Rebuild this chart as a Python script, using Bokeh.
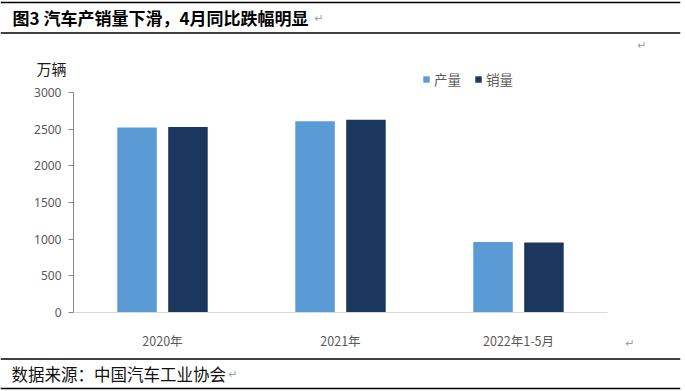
from bokeh.plotting import figure
from bokeh.models import (ColumnDataSource, FactorRange, Range1d, Label, Span,
                          Legend, LegendItem, FixedTicker)
from bokeh.transform import dodge
from bokeh.embed import file_html
from bokeh.resources import INLINE

categories = ["2020年", "2021年", "2022年1-5月"]
production = [2523, 2608, 961]
sales = [2531, 2628, 956]
y_ticks = [0, 500, 1000, 1500, 2000, 2500, 3000]
series_names = ["产量", "销量"]
colors = ["#5B9BD5", "#1C375E"]

W, H = 685, 390
RB = 5                      # right border
AX_L, AX_R = 73, 607        # x axis extent in px
Y0, Y3000 = 312, 92         # y pixel of 0 and 3000
k = (Y0 - Y3000) / 3000.0   # px per unit
cat_px = (AX_R - AX_L) / len(categories)
pad_units = AX_L / cat_px   # padding each side in category units

src = ColumnDataSource(dict(cat=categories, prod=production, sale=sales))

x_range = FactorRange(*categories, range_padding=2 * pad_units / len(categories),
                      range_padding_units="percent")
y_range = Range1d(-(H - Y0) / k, Y0 / k)

p = figure(width=W, height=H, x_range=x_range, y_range=y_range, title=None,
           output_backend="svg", toolbar_location=None,
           min_border_left=0, min_border_right=RB, min_border_top=0, min_border_bottom=0)
p.outline_line_color = None
p.background_fill_color = "white"
p.border_fill_color = "white"
p.xgrid.grid_line_color = None
p.ygrid.grid_line_color = None

r1 = p.vbar(x=dodge("cat", -0.143, range=p.x_range), top="prod", width=0.222,
            source=src, fill_color=colors[0], line_color=None)
r2 = p.vbar(x=dodge("cat", 0.143, range=p.x_range), top="sale", width=0.222,
            source=src, fill_color=colors[1], line_color=None)

# axes (drawn at fixed locations inside the canvas)
p.yaxis.fixed_location = 0
p.yaxis.bounds = (0, 3000)
p.yaxis.ticker = FixedTicker(ticks=y_ticks)
p.yaxis.axis_line_color = "#868686"
p.yaxis.major_tick_line_color = "#868686"
p.yaxis.major_tick_out = 5
p.yaxis.major_tick_in = 0
p.yaxis.minor_tick_line_color = None
p.yaxis.major_label_text_font = "Noto Sans"
p.yaxis.major_label_text_font_size = "12px"
p.yaxis.major_label_text_color = "#595959"
p.yaxis.major_label_standoff = 7

p.xaxis.fixed_location = 0
p.xaxis.bounds = (0, len(categories))
p.xaxis.axis_line_color = "#D9D9D9"
p.xaxis.major_tick_line_color = None
p.xaxis.minor_tick_line_color = None
p.xaxis.major_label_text_font = "Noto Sans CJK SC"
p.xaxis.major_label_text_font_size = "12.5px"
p.xaxis.major_label_text_color = "#595959"
p.xaxis.major_label_standoff = 12

# legend
legend = Legend(items=[LegendItem(label=series_names[0], renderers=[r1]),
                       LegendItem(label=series_names[1], renderers=[r2])],
                orientation="horizontal", location=(422, H - 89),
                border_line_color=None, background_fill_alpha=0,
                padding=0, margin=0, spacing=13, glyph_width=8, glyph_height=8,
                label_standoff=4, label_text_font="Noto Sans CJK SC",
                label_text_font_size="13.5px", label_text_color="#595959")
p.add_layout(legend, "center")


def label(X, Y, text, size, color="#000000", font="Noto Sans CJK SC", style="normal",
          align="left"):
    p.add_layout(Label(x=X, y=H - Y, x_units="screen", y_units="screen", text=text,
                       text_font=font, text_font_size=size, text_color=color,
                       text_font_style=style, text_align=align, text_baseline="middle"))


def hline(Y, width=1.5):
    p.add_layout(Span(location=(Y0 - Y) / k, dimension="width",
                      line_color="#000000", line_width=width))


hline(2)
hline(32.5)
hline(358.5)
hline(388)

label(12, 17, "图3 汽车产销量下滑，4月同比跌幅明显", "17px", style="bold")
label(314, 18, "↵", "11px", color="#A0A0A0", font="DejaVu Sans")
label(637, 45, "↵", "11px", color="#A0A0A0", font="DejaVu Sans")
label(51, 68, "万辆", "15px", color="#1A1A1A", align="center")
label(625, 343, "↵", "11px", color="#A0A0A0", font="DejaVu Sans")
label(11, 373.5, "数据来源：中国汽车工业协会", "16.5px", color="#111111")
label(228, 374, "↵", "11px", color="#A0A0A0", font="DejaVu Sans")

open("out.html", "w").write(file_html(p, INLINE))
